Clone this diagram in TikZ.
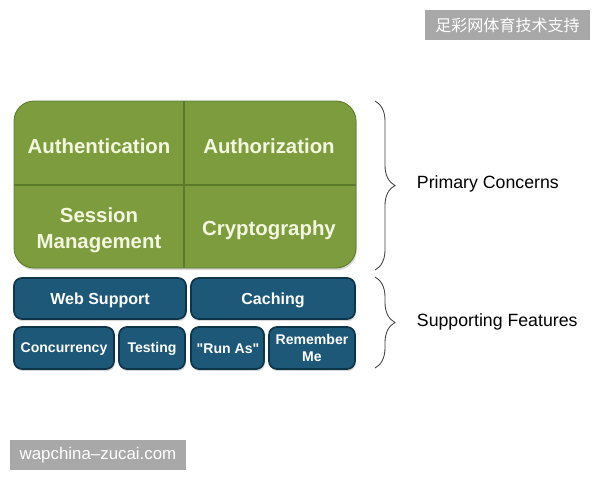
\documentclass[tikz,border=0pt]{standalone}
\usepackage{fontspec}
\setmainfont{Liberation Sans}[Ligatures=TeXOff]
\newfontfamily\cjk{Noto Sans CJK SC}
\usetikzlibrary{decorations.pathreplacing,shadows}
\definecolor{cCore}{RGB}{124,156,62}
\definecolor{cCoreEdge}{RGB}{92,122,44}
\definecolor{cCoreText}{RGB}{244,247,224}
\definecolor{cSup}{RGB}{29,88,120}
\definecolor{cSupEdge}{RGB}{14,52,74}
\definecolor{cMark}{RGB}{168,168,168}

\begin{document}
\begin{tikzpicture}[x=0.025cm,y=-0.025cm,
  corebox/.style={fill=cCore,draw=cCoreEdge,line width=0.6pt,rounded corners=0.5cm,
    drop shadow={shadow xshift=0.6pt,shadow yshift=-1.5pt,opacity=0.3}},
  suprect/.style={fill=cSup,draw=cSupEdge,line width=1.2pt,rounded corners=0.2cm,
    drop shadow={shadow xshift=0.6pt,shadow yshift=-1.5pt,opacity=0.3}},
  coretxt/.style={text=cCoreText,font=\bfseries\fontsize{14.5}{18.5}\selectfont,align=center},
  suptxt/.style={text=white,font=\bfseries\fontsize{11.4}{13}\selectfont,align=center},
  smalltxt/.style={text=white,font=\bfseries\fontsize{10}{12}\selectfont,align=center},
  grouptxt/.style={anchor=west,font=\fontsize{12.6}{14}\selectfont},
  bracket/.style={decorate,decoration={brace,amplitude=0.5cm},draw=black!75,line width=0.6pt},
  markbox/.style={fill=cMark,text=white,inner sep=0pt}]
\useasboundingbox[fill=white] (0,0) rectangle (600,480);
% primary concerns
\draw[corebox] (14,101) rectangle (356,268);
\draw[cCoreEdge,line width=0.9pt] (184,101) -- (184,268);
\draw[cCoreEdge,line width=0.9pt] (14,185) -- (356,185);
\node[coretxt] (authn) at (99,146) {Authentication};
\node[coretxt] (authz) at (269,146) {Authorization};
\node[coretxt] (session) at (99,230) {Session\\Management};
\node[coretxt] (crypto) at (269,230) {Cryptography};
% supporting features
\draw[suprect] (14,278) rectangle (186,319);
\draw[suprect] (191,278) rectangle (355,319);
\draw[suprect] (14,327) rectangle (114,369);
\draw[suprect] (119,327) rectangle (185,369);
\draw[suprect] (191,327) rectangle (264,369);
\draw[suprect] (269,327) rectangle (355,369);
\node[suptxt] (web) at (100,300) {Web Support};
\node[suptxt] (cache) at (273,300) {Caching};
\node[smalltxt] (conc) at (64,349) {Concurrency};
\node[smalltxt] (test) at (152,349) {Testing};
\node[smalltxt] (runas) at (228,349) {"Run As"};
\node[smalltxt] (remember) at (312,348) {Remember\\Me};
% braces
\draw[bracket] (375,101) -- (375,270);
\draw[bracket] (375,277) -- (375,368);
\node[grouptxt] (primary) at (412,184) {Primary Concerns};
\node[grouptxt] (support) at (412,322) {Supporting Features};
% marks
\node[markbox,minimum width=4.1cm,minimum height=0.75cm] (marktop) at (507.5,25) {\cjk\fontsize{11.4}{13}\selectfont 足彩网体育技术支持};
\node[markbox,minimum width=4.4cm,minimum height=0.75cm] (markbot) at (98,455) {\fontsize{12}{14}\selectfont wapchina–zucai.com};
\end{tikzpicture}
\end{document}
